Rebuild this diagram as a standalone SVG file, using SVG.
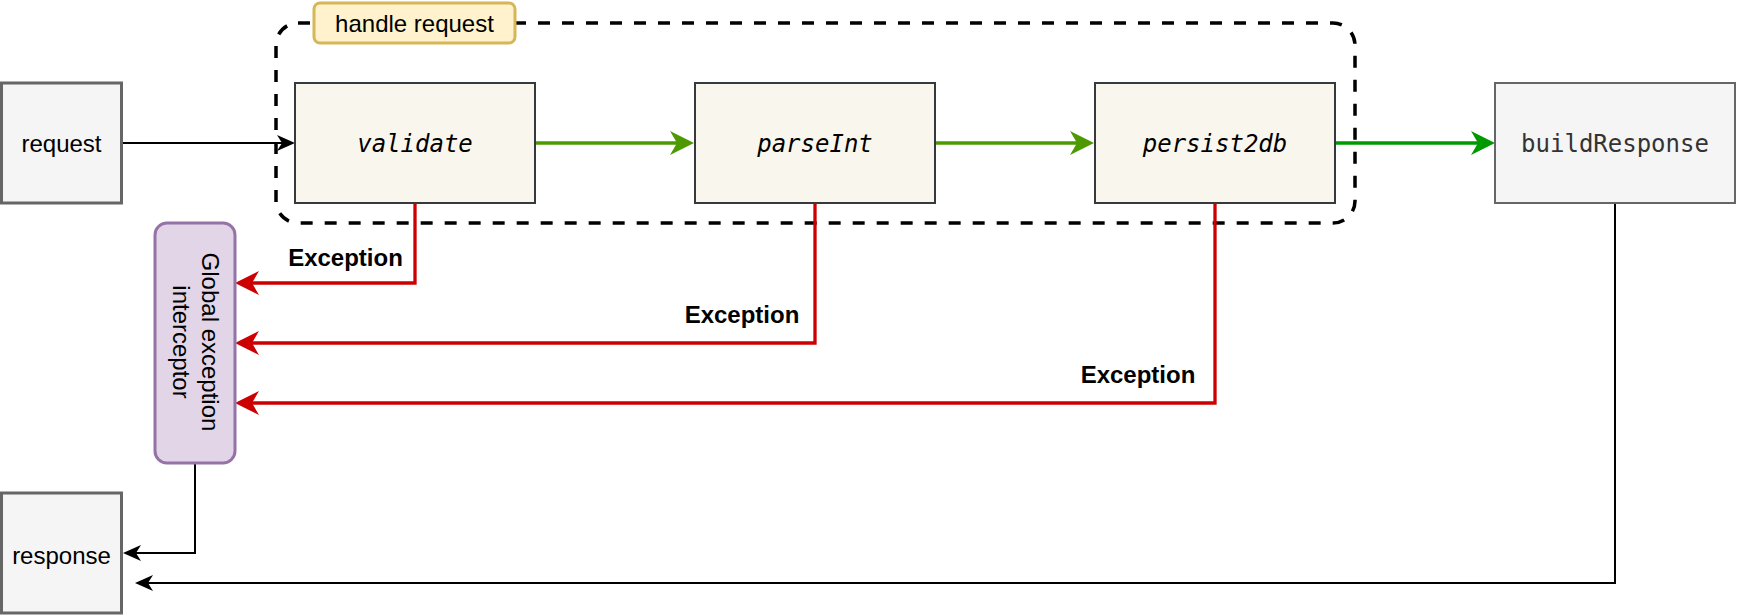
<svg xmlns="http://www.w3.org/2000/svg" width="1738" height="616" viewBox="0 0 1738 616">
<style>
.sans{font-family:"Liberation Sans",Arial,sans-serif;font-size:24px;fill:#000;text-anchor:middle}
.bold{font-weight:bold}
.mono{font-family:"DejaVu Sans Mono","Liberation Mono",monospace;font-size:24px;text-anchor:middle}
.step{fill:#f9f7ed;stroke:#36393d;stroke-width:2}
.io{fill:#f5f5f5;stroke:#666666;stroke-width:3}
.blk{fill:none;stroke:#000;stroke-width:2}
.grn{fill:none;stroke:#4D9900;stroke-width:3.3}
.grn2{fill:none;stroke:#009900;stroke-width:3.3}
.red{fill:none;stroke:#CC0000;stroke-width:3.3}
</style>
<defs>
<marker id="aBlk" viewBox="-12 -10 22 20" markerWidth="22" markerHeight="20" refX="0" refY="0" orient="auto" markerUnits="userSpaceOnUse"><path d="M8,0 L-10,-8 L-5,0 L-10,8 Z" fill="#000"/></marker>
<marker id="aGrn" viewBox="-16 -14 28 28" markerWidth="28" markerHeight="28" refX="0" refY="0" orient="auto" markerUnits="userSpaceOnUse"><path d="M10,0 L-14,-12 L-7,0 L-14,12 Z" fill="#4D9900"/></marker>
<marker id="aGrn2" viewBox="-16 -14 28 28" markerWidth="28" markerHeight="28" refX="0" refY="0" orient="auto" markerUnits="userSpaceOnUse"><path d="M10,0 L-14,-12 L-7,0 L-14,12 Z" fill="#009900"/></marker>
<marker id="aRed" viewBox="-16 -14 28 28" markerWidth="28" markerHeight="28" refX="0" refY="0" orient="auto" markerUnits="userSpaceOnUse"><path d="M10,0 L-14,-12 L-7,0 L-14,12 Z" fill="#CC0000"/></marker>
</defs>

<g id="handle-request-group">
<rect x="276" y="23" width="1079" height="200" rx="22" ry="22" fill="none" stroke="#000" stroke-width="3.5" stroke-dasharray="12 12"/>
</g>

<g id="connectors">
<path class="blk" d="M122,143 L287,143" marker-end="url(#aBlk)"/>
<path class="grn" d="M535,143 L684,143" marker-end="url(#aGrn)"/>
<path class="grn" d="M935,143 L1084,143" marker-end="url(#aGrn)"/>
<path class="grn2" d="M1335,143 L1485,143" marker-end="url(#aGrn2)"/>
<path class="red" d="M415,203 V283 H245" marker-end="url(#aRed)"/>
<path class="red" d="M815,203 V343 H245" marker-end="url(#aRed)"/>
<path class="red" d="M1215,203 V403 H245" marker-end="url(#aRed)"/>
<path class="blk" d="M195,463 V553 H131" marker-end="url(#aBlk)"/>
<path class="blk" d="M1615,203 V583 H143" marker-end="url(#aBlk)"/>
<text class="sans bold" x="345.5" y="265.5">Exception</text>
<text class="sans bold" x="742" y="322.5">Exception</text>
<text class="sans bold" x="1138" y="382.5">Exception</text>
</g>

<g id="handle-request-label">
<rect x="314" y="3" width="201" height="40" rx="6" ry="6" fill="#fff2cc" stroke="#d6b656" stroke-width="3"/>
<text class="sans" x="414.5" y="31.5">handle request</text>
</g>

<g id="request">
<rect class="io" x="1.5" y="83" width="120" height="120"/>
<text class="sans" x="61.5" y="151.5">request</text>
</g>

<g id="validate">
<rect class="step" x="295" y="83" width="240" height="120"/>
<text class="mono" font-style="italic" x="415" y="151.5">validate</text>
</g>

<g id="parseInt">
<rect class="step" x="695" y="83" width="240" height="120"/>
<text class="mono" font-style="italic" x="815" y="151.5">parseInt</text>
</g>

<g id="persist2db">
<rect class="step" x="1095" y="83" width="240" height="120"/>
<text class="mono" font-style="italic" x="1215" y="151.5">persist2db</text>
</g>

<g id="buildResponse">
<rect x="1495" y="83" width="240" height="120" fill="#f5f5f5" stroke="#666666" stroke-width="2"/>
<text class="mono" fill="#333333" x="1615" y="151.5">buildResponse</text>
</g>

<g id="interceptor">
<rect x="155" y="223" width="80" height="240" rx="12" ry="12" fill="#e1d5e7" stroke="#9673a6" stroke-width="3"/>
<g transform="translate(195,342) rotate(90)">
<text class="sans" x="0" y="-6.5">Global exception</text>
<text class="sans" x="0" y="22.5">interceptor</text>
</g>
</g>

<g id="response">
<rect class="io" x="1.5" y="493" width="120" height="120"/>
<text class="sans" x="61.5" y="563.5">response</text>
</g>
</svg>
